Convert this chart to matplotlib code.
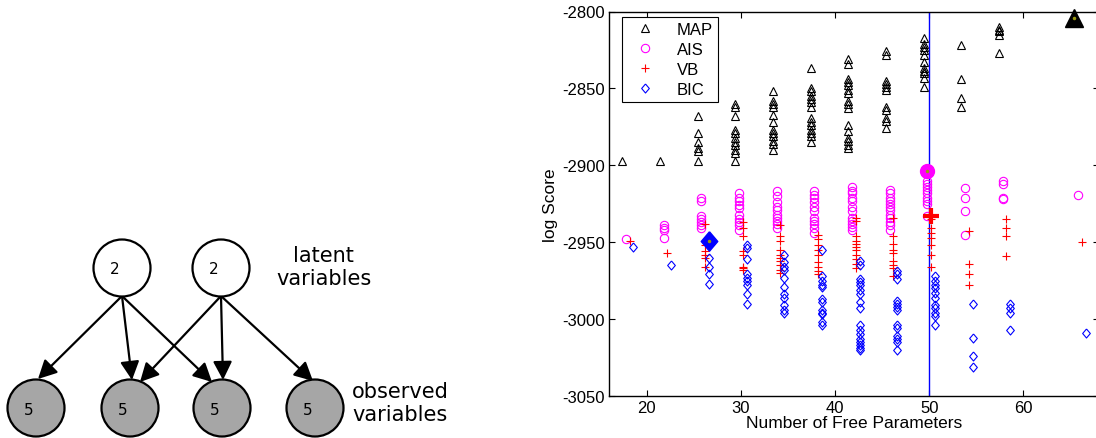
import matplotlib
matplotlib.use("Agg")
import matplotlib.pyplot as plt
from matplotlib.patches import Circle, FancyArrowPatch
import numpy as np

plt.rcParams['font.family'] = ['Liberation Sans', 'DejaVu Sans']
plt.rcParams['axes.unicode_minus'] = False

# ---------------- data ----------------
params = [18, 22, 26, 30, 34, 38, 42, 46, 50, 54, 58, 66]

map_scores = [
    [-2897],
    [-2897],
    [-2868, -2879, -2885, -2889, -2891, -2897],
    [-2860, -2862, -2868, -2877, -2879, -2882, -2885, -2887, -2890, -2892, -2897],
    [-2852, -2858, -2860, -2862, -2867, -2872, -2877, -2879, -2881, -2884, -2886, -2890],
    [-2837, -2850, -2852, -2855, -2857, -2859, -2862, -2869, -2872, -2874, -2877, -2879, -2881, -2885],
    [-2831, -2834, -2844, -2846, -2848, -2851, -2853, -2858, -2860, -2863, -2874, -2878, -2882, -2884, -2887, -2889],
    [-2826, -2828, -2845, -2847, -2849, -2851, -2862, -2864, -2869, -2871, -2876],
    [-2817, -2821, -2823, -2825, -2828, -2833, -2837, -2839, -2840, -2843, -2849],
    [-2822, -2844, -2856, -2862],
    [-2810, -2812, -2813, -2815, -2827],
    [-2804],
]

ais_scores = [
    [-2948],
    [-2939, -2941, -2942, -2947],
    [-2921, -2923, -2933, -2935, -2937, -2939, -2941],
    [-2918, -2921, -2923, -2926, -2928, -2932, -2935, -2937, -2939, -2942],
    [-2917, -2920, -2924, -2927, -2929, -2932, -2934, -2936, -2938, -2941],
    [-2917, -2919, -2921, -2924, -2927, -2930, -2934, -2936, -2938, -2941, -2944],
    [-2914, -2917, -2918, -2921, -2923, -2927, -2930, -2934, -2936, -2938, -2940, -2942],
    [-2916, -2918, -2921, -2923, -2925, -2927, -2929, -2932, -2934, -2937, -2939, -2942],
    [-2904, -2910, -2912, -2914, -2916, -2918, -2921, -2923, -2925, -2933],
    [-2915, -2921, -2930, -2945],
    [-2910, -2912, -2921, -2922],
    [-2919],
]

vb_scores = [
    [-2949],
    [-2957],
    [-2938, -2952, -2956, -2958, -2960, -2966],
    [-2937, -2941, -2946, -2956, -2958, -2966, -2967, -2968],
    [-2939, -2946, -2949, -2955, -2958, -2960, -2962, -2965, -2968, -2970],
    [-2945, -2948, -2952, -2955, -2958, -2963, -2966, -2969, -2971],
    [-2934, -2936, -2946, -2949, -2951, -2953, -2955, -2958, -2961, -2964, -2967],
    [-2934, -2946, -2951, -2955, -2957, -2962, -2965, -2967, -2972],
    [-2933, -2935, -2941, -2944, -2947, -2952, -2958, -2966],
    [-2943, -2964, -2971, -2978],
    [-2935, -2941, -2946, -2959],
    [-2950],
]

bic_scores = [
    [-2953],
    [-2965],
    [-2949, -2960, -2966, -2971, -2977],
    [-2952, -2954, -2961, -2971, -2973, -2975, -2978, -2984, -2990],
    [-2958, -2963, -2966, -2968, -2973, -2979, -2984, -2986, -2991, -2994, -2996],
    [-2955, -2972, -2975, -2978, -2979, -2987, -2989, -2994, -2996, -2997, -3002, -3004],
    [-2962, -2965, -2974, -2976, -2978, -2981, -2984, -2989, -2993, -3004, -3007, -3010, -3013, -3015, -3017, -3019, -3020],
    [-2969, -2971, -2974, -2988, -2990, -2992, -2994, -3004, -3006, -3011, -3013, -3015, -3020],
    [-2972, -2975, -2978, -2980, -2983, -2986, -2991, -2993, -2996, -2998, -3004],
    [-2990, -3012, -3024, -3031],
    [-2990, -2993, -2996, -3007],
    [-3009],
]

true_params = 50
series_names = ['MAP', 'AIS', 'VB', 'BIC']
xticks = [20, 30, 40, 50, 60]
yticks = [-3050, -3000, -2950, -2900, -2850, -2800]

# ---------------- figure ----------------
W, H = 1096, 439
fig = plt.figure(figsize=(W / 100, H / 100), dpi=100)

# ---- left: graphical model diagram ----
dax = fig.add_axes([0, 0, 560 / W, 1])
dax.set_xlim(0, 560)
dax.set_ylim(H, 0)
dax.axis('off')

latent = [(122, 269), (221, 269)]
observed = [(36, 409), (130, 409), (222, 409), (315, 409)]
r = 28.5
for (cx, cy) in latent:
    dax.add_patch(Circle((cx, cy), r, facecolor='white', edgecolor='black', lw=1.6, zorder=3))
    dax.text(cx - 7, cy + 1, '2', ha='center', va='center', fontsize=11,
             family='DejaVu Sans', zorder=4)
for (cx, cy) in observed:
    dax.add_patch(Circle((cx, cy), r, facecolor='#a6a6a6', edgecolor='black', lw=1.6, zorder=3))
    dax.text(cx - 7, cy + 2, '5', ha='center', va='center', fontsize=11,
             family='DejaVu Sans', zorder=4)

edges = [
    ((122, 297), (38, 380)),
    ((122, 297), (132, 381)),
    ((122, 297), (212, 383)),
    ((221, 297), (140, 383)),
    ((221, 297), (223, 381)),
    ((221, 297), (313, 382)),
]
for (p0, p1) in edges:
    arr = FancyArrowPatch(p0, p1, arrowstyle='-|>,head_length=0.45,head_width=0.23',
                          mutation_scale=25, lw=1.6, color='black',
                          shrinkA=0, shrinkB=0, zorder=2)
    dax.add_patch(arr)

lab_font = dict(fontsize=15, family='DejaVu Sans', ha='center', va='center')
dax.text(323, 256, 'latent', **lab_font)
dax.text(324, 279, 'variables', **lab_font)
dax.text(400, 392, 'observed', **lab_font)
dax.text(400, 415, 'variables', **lab_font)

# ---- right: scores scatter ----
ax = fig.add_axes([609 / W, 42 / H, 489.8 / W, 384.5 / H])

diamond = [(0, 1), (0.85, 0), (0, -1), (-0.85, 0), (0, 1)]
styles = {
    'MAP': dict(marker='^', color='black', ms=5.5, off=-0.6, big=13),
    'AIS': dict(marker='o', color='#ff00ff', ms=6, off=-0.2, big=10),
    'VB': dict(marker='+', color='#ff0000', ms=6, off=0.2, big=11),
    'BIC': dict(marker=diamond, color='#0000ff', ms=6.5, off=0.6, big=14),
}
data = {'MAP': map_scores, 'AIS': ais_scores, 'VB': vb_scores, 'BIC': bic_scores}

handles = []
for name in series_names:
    st = styles[name]
    xs, ys = [], []
    for p, vals in zip(params, data[name]):
        xs += [p + st['off']] * len(vals)
        ys += vals
    h, = ax.plot(xs, ys, linestyle='none', marker=st['marker'], ms=st['ms'],
                 mfc='none', mec=st['color'], mew=0.8, label=name, zorder=3)
    handles.append(h)
    # highlight the best-scoring model for each method
    i = int(np.argmax(ys))
    bx, by = xs[i], ys[i]
    if name == 'VB':
        ax.plot([bx], [by], marker='+', ms=st['big'], mew=3, color=st['color'], zorder=5,
                clip_on=False)
    else:
        ax.plot([bx], [by], marker=st['marker'], ms=st['big'], mfc=st['color'],
                mec=st['color'], zorder=5, clip_on=False)
        ax.plot([bx], [by], marker='.', ms=3, color='#9a9a10', zorder=6, clip_on=False)

ax.axvline(true_params, color='#0000ff', lw=1.0, zorder=2)

ax.set_xlim(16, 68)
ax.set_ylim(-3050, -2800)
ax.set_xticks(xticks)
ax.set_yticks(yticks)
ax.tick_params(direction='in', top=True, right=True, length=4, width=0.8,
               labelsize=12, pad=3)
for s in ax.spines.values():
    s.set_linewidth(1.0)
ax.set_xlabel('Number of Free Parameters', fontsize=12.5, labelpad=0)
ax.set_ylabel('log Score', fontsize=12.5, labelpad=3)

leg = ax.legend(handles=handles, loc='upper left', bbox_to_anchor=(0.026, 0.985),
                fontsize=12, frameon=True, fancybox=False, edgecolor='black',
                framealpha=1, borderpad=0.3, labelspacing=0.3, handlelength=2.2,
                handletextpad=0.8, borderaxespad=0)
leg.get_frame().set_linewidth(0.8)

fig.savefig('out.png', dpi=100)
